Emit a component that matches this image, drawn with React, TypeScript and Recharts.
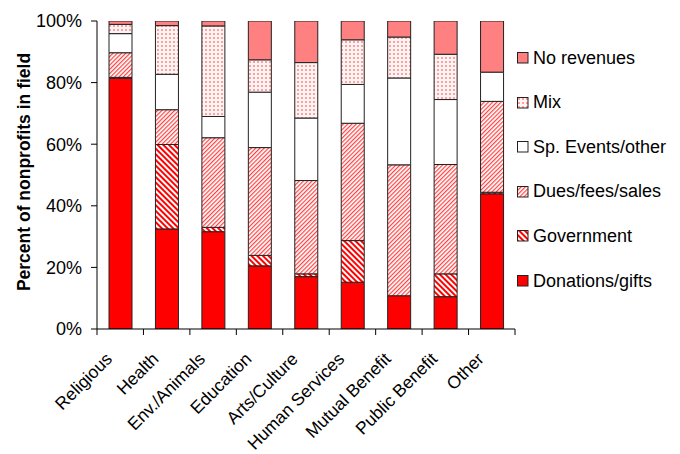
import { BarChart, Bar, XAxis, YAxis } from "recharts";

const categories = [
  "Religious",
  "Health",
  "Env./Animals",
  "Education",
  "Arts/Culture",
  "Human Services",
  "Mutual Benefit",
  "Public Benefit",
  "Other",
];

// share of nonprofits (%) by main revenue source
const donations = [81.4, 32.5, 31.6, 20.5, 17.0, 15.2, 10.8, 10.5, 43.9];
const government = [0.3, 27.4, 1.4, 3.4, 0.9, 13.5, 0, 7.4, 0.5];
const dues = [8.0, 11.3, 29.1, 35.0, 30.3, 38.1, 42.5, 35.5, 29.5];
const events = [6.2, 11.5, 6.9, 18.0, 20.3, 12.6, 28.2, 21.1, 9.5];
const mix = [3.0, 15.8, 29.4, 10.5, 18.0, 14.5, 13.3, 14.7, 0];
const noRevenue = [1.1, 1.5, 1.6, 12.6, 13.5, 6.1, 5.2, 10.8, 16.6];

const yTicks = [0, 20, 40, 60, 80, 100];

const data = categories.map((name, i) => ({
  name,
  donations: donations[i],
  government: government[i],
  dues: dues[i],
  events: events[i],
  mix: mix[i],
  noRevenue: noRevenue[i],
}));

const series = [
  { key: "donations", label: "Donations/gifts", fill: "#ff0000" },
  { key: "government", label: "Government", fill: "url(#govStripes)" },
  { key: "dues", label: "Dues/fees/sales", fill: "url(#duesStripes)" },
  { key: "events", label: "Sp. Events/other", fill: "#ffffff" },
  { key: "mix", label: "Mix", fill: "url(#mixDots)" },
  { key: "noRevenue", label: "No revenues", fill: "#ff8080" },
];

const FONT = '"Liberation Sans", Arial, sans-serif';
const WIDTH = 680;
const HEIGHT = 454;
const MARGIN = { top: 21, right: 165, left: 0, bottom: 0 };
const Y_AXIS_WIDTH = 97;
const PLOT_WIDTH = WIDTH - MARGIN.left - MARGIN.right - Y_AXIS_WIDTH;
const BAND = PLOT_WIDTH / categories.length;

function CategoryTick(props: any) {
  const { x, y, payload, index } = props;
  const axisY = y - 8;
  const left = x - BAND / 2;
  const right = x + BAND / 2;
  return (
    <g>
      <line x1={left} x2={left} y1={axisY} y2={axisY + 6} stroke="#000" />
      {index === categories.length - 1 && (
        <line x1={right} x2={right} y1={axisY} y2={axisY + 6} stroke="#000" />
      )}
      <text
        transform={`translate(${x - 7},${axisY + 31}) rotate(-45)`}
        textAnchor="end"
        fontSize={17.5}
        fontFamily={FONT}
        fill="#000"
      >
        {payload.value}
      </text>
    </g>
  );
}

function YTitle() {
  return (
    <text
      transform="translate(30,172) rotate(-90)"
      textAnchor="middle"
      fontSize={17.5}
      fontWeight="bold"
      fontFamily={FONT}
      fill="#000"
    >
      Percent of nonprofits in field
    </text>
  );
}

function LegendBox() {
  const items = [...series].reverse();
  return (
    <div style={{ position: "absolute", left: 517, top: 47, fontFamily: FONT }}>
      {items.map((s, i) => (
        <div
          key={s.key}
          style={{
            position: "absolute",
            top: i * 44.6,
            left: 0,
            display: "flex",
            alignItems: "center",
            whiteSpace: "nowrap",
            height: 22,
          }}
        >
          <svg width={12} height={12} style={{ display: "block" }}>
            <rect x={0.5} y={0.5} width={10.5} height={10.5} fill={s.fill} stroke="#222" />
          </svg>
          <span style={{ fontSize: 18, marginLeft: 4, color: "#000" }}>{s.label}</span>
        </div>
      ))}
    </div>
  );
}

export default function App() {
  return (
    <div
      style={{
        position: "absolute",
        left: 0,
        top: 0,
        width: WIDTH,
        height: HEIGHT,
        background: "#fff",
      }}
    >
      <BarChart width={WIDTH} height={HEIGHT} data={data} margin={MARGIN} barSize={23}>
        <defs>
          <pattern
            id="govStripes"
            width={4}
            height={4}
            patternUnits="userSpaceOnUse"
            patternTransform="rotate(-45)"
          >
            <rect width={4} height={4} fill="#fff" />
            <rect width={2} height={4} fill="#ff0000" />
          </pattern>
          <pattern
            id="duesStripes"
            width={3}
            height={3}
            patternUnits="userSpaceOnUse"
            patternTransform="rotate(45)"
          >
            <rect width={3} height={3} fill="#fff" />
            <rect width={1.2} height={3} fill="#ff4040" />
          </pattern>
          <pattern id="mixDots" width={4} height={4} patternUnits="userSpaceOnUse">
            <rect width={4} height={4} fill="#fff4f4" />
            <rect x={1} y={1} width={2} height={2} fill="#ffa0a0" />
          </pattern>
        </defs>
        <XAxis
          dataKey="name"
          interval={0}
          tickLine={false}
          tickSize={6}
          tickMargin={2}
          axisLine={{ stroke: "#000" }}
          tick={<CategoryTick />}
          height={125}
        />
        <YAxis
          width={Y_AXIS_WIDTH}
          domain={[0, 100]}
          ticks={yTicks}
          allowDataOverflow
          tickFormatter={(v) => `${v}%`}
          tickSize={6}
          tickMargin={9}
          axisLine={{ stroke: "#000" }}
          tickLine={{ stroke: "#000" }}
          tick={{ fill: "#000", fontSize: 18, fontFamily: FONT }}
          label={<YTitle />}
        />
        {series.map((s) => (
          <Bar
            key={s.key}
            dataKey={s.key}
            stackId="rev"
            fill={s.fill}
            stroke="#222"
            strokeWidth={1}
            isAnimationActive={false}
          />
        ))}
      </BarChart>
      <LegendBox />
    </div>
  );
}
